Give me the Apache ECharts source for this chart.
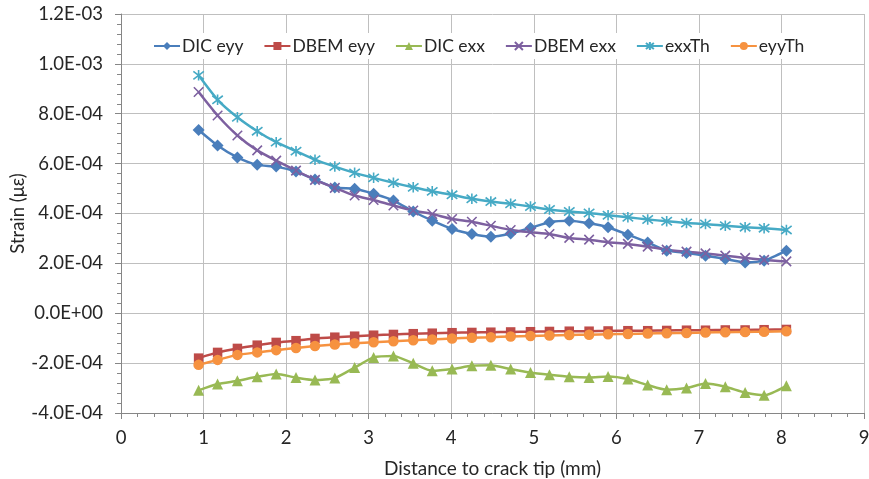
<!DOCTYPE html>
<html>
<head>
<meta charset="utf-8">
<script src="https://cdn.jsdelivr.net/npm/echarts@6/dist/echarts.min.js"></script>
<style>html,body{margin:0;padding:0;background:#fff;}#c{width:869px;height:479px;}</style>
</head>
<body>
<div id="c"></div>
<script>
// Distance to crack tip (mm)
var distance = [0.94,1.17,1.41,1.65,1.88,2.12,2.35,2.59,2.83,3.06,3.30,3.54,3.77,4.01,4.25,4.48,4.72,4.96,5.19,5.43,5.67,5.90,6.14,6.38,6.61,6.85,7.08,7.32,7.56,7.79,8.06];
// Strain values (x 1e-4)
var dicEyy  = [7.35,6.73,6.25,5.95,5.88,5.68,5.36,5.04,4.99,4.79,4.52,4.08,3.71,3.38,3.18,3.07,3.20,3.42,3.65,3.71,3.61,3.45,3.15,2.84,2.51,2.42,2.31,2.18,2.04,2.11,2.51];
var dbemEyy = [-1.80,-1.57,-1.41,-1.28,-1.17,-1.10,-1.01,-0.96,-0.92,-0.88,-0.85,-0.82,-0.80,-0.78,-0.77,-0.76,-0.75,-0.74,-0.73,-0.72,-0.72,-0.71,-0.70,-0.70,-0.69,-0.68,-0.68,-0.67,-0.67,-0.66,-0.65];
var dicExx  = [-3.09,-2.84,-2.71,-2.55,-2.44,-2.58,-2.68,-2.60,-2.18,-1.77,-1.71,-2.01,-2.31,-2.24,-2.11,-2.09,-2.24,-2.38,-2.47,-2.55,-2.58,-2.54,-2.64,-2.88,-3.07,-3.00,-2.82,-2.95,-3.18,-3.29,-2.91];
var dbemExx = [8.87,7.93,7.13,6.53,6.12,5.72,5.35,5.03,4.72,4.54,4.32,4.12,3.98,3.78,3.67,3.51,3.34,3.25,3.18,3.02,2.95,2.85,2.78,2.67,2.55,2.47,2.40,2.31,2.22,2.14,2.08];
var exxTh   = [9.54,8.56,7.86,7.30,6.86,6.50,6.16,5.88,5.63,5.43,5.23,5.05,4.89,4.75,4.59,4.48,4.39,4.28,4.16,4.08,4.02,3.93,3.85,3.76,3.69,3.62,3.58,3.51,3.45,3.41,3.34];
var eyyTh   = [-2.07,-1.87,-1.67,-1.57,-1.48,-1.39,-1.31,-1.25,-1.20,-1.16,-1.12,-1.08,-1.05,-1.01,-0.98,-0.96,-0.93,-0.91,-0.89,-0.87,-0.86,-0.84,-0.83,-0.81,-0.80,-0.79,-0.77,-0.76,-0.75,-0.74,-0.72];
var seriesNames = ['DIC eyy','DBEM eyy','DIC exx','DBEM exx','exxTh','eyyTh'];
var xTicks = [0,1,2,3,4,5,6,7,8,9];
var yTicks = ['-4.0E-04','-2.0E-04','0.0E+00','2.0E-04','4.0E-04','6.0E-04','8.0E-04','1.0E-03','1.2E-03'];

function pairs(vals){ return vals.map(function(v,i){ return [distance[i], v*1e-4]; }); }
function fmtE(v){
  var idx = Math.round((v + 4e-4) / 2e-4);
  return yTicks[idx] !== undefined ? yTicks[idx] : '';
}
var FONT = 'Lato';
var TXT = '#262626';
var XSYM = 'path://M0,0L10,10M10,0L0,10';
var ASYM = 'path://M0,0L10,10M10,0L0,10M5,-1.5L5,11.5';

var defs = [
  {vals: dicEyy,  color:'#4A7EBB', symbol:'diamond',  size:12},
  {vals: dbemEyy, color:'#BE4B48', symbol:'rect',     size:9.5},
  {vals: dicExx,  color:'#98B954', symbol:'triangle', size:11},
  {vals: dbemExx, color:'#7D60A0', symbol:XSYM,       size:9.5, stroke:true},
  {vals: exxTh,   color:'#46AAC5', symbol:ASYM,       size:10.5, stroke:true},
  {vals: eyyTh,   color:'#F69240', symbol:'circle',   size:10.5}
];

var series = defs.map(function(d,i){
  return {
    name: seriesNames[i], type:'line', data: pairs(d.vals),
    symbol: d.symbol, symbolSize: d.size, showAllSymbol:true,
    smooth: 0.2,
    lineStyle:{color:d.color, width:2.5},
    itemStyle:{color: d.stroke ? 'rgba(0,0,0,0)' : d.color, borderColor:d.color, borderWidth: d.stroke ? 1.6 : 0},
    emphasis:{disabled:true},
    animation:false
  };
});

var chart = echarts.init(document.getElementById('c'), null, {renderer:'canvas'});
chart.setOption({
  animation:false,
  backgroundColor:'#fff',
  grid:{left:121, right:5, top:14, bottom:66, containLabel:false, outerBoundsMode:'none'},
  legend:{
    data: seriesNames,
    left:149, top:33,
    itemWidth:26, itemHeight:10, itemGap:20,
    backgroundColor:'#fff',
    padding:[4,4,4,4],
    textStyle:{fontFamily:FONT, fontSize:17.5, color:TXT, padding:[0,0,0,-3]}
  },
  xAxis:{
    type:'value', min:0, max:9, interval:1,
    name:'Distance to crack tip (mm)', nameLocation:'middle', nameGap:46, nameMoveOverlap:false,
    nameTextStyle:{fontFamily:FONT, fontSize:19, color:TXT},
    axisLine:{show:true, onZero:false, lineStyle:{color:'#868686', width:1}},
    axisTick:{show:true, length:6, lineStyle:{color:'#868686'}},
    minorTick:{show:true, splitNumber:5, length:4, lineStyle:{color:'#868686'}},
    axisLabel:{fontFamily:FONT, fontSize:18.5, color:TXT, margin:16,
      formatter:function(v){ return String(xTicks[Math.round(v)]); }},
    splitLine:{show:true, lineStyle:{color:'#BFBFBF', width:1}}
  },
  yAxis:{
    type:'value', min:-4e-4, max:1.2e-3, interval:2e-4,
    name:'Strain (\u03bc\u03b5)', nameLocation:'middle', nameGap:93, nameRotate:90, nameMoveOverlap:false,
    nameTextStyle:{fontFamily:FONT, fontSize:18.5, color:TXT},
    axisLine:{show:true, lineStyle:{color:'#868686', width:1}},
    axisTick:{show:true, length:6, lineStyle:{color:'#868686'}},
    minorTick:{show:true, splitNumber:5, length:4, lineStyle:{color:'#868686'}},
    axisLabel:{fontFamily:FONT, fontSize:18.5, color:TXT, margin:18, formatter:fmtE},
    splitLine:{show:true, lineStyle:{color:'#BFBFBF', width:1}}
  },
  series: series
});
</script>
</body>
</html>
